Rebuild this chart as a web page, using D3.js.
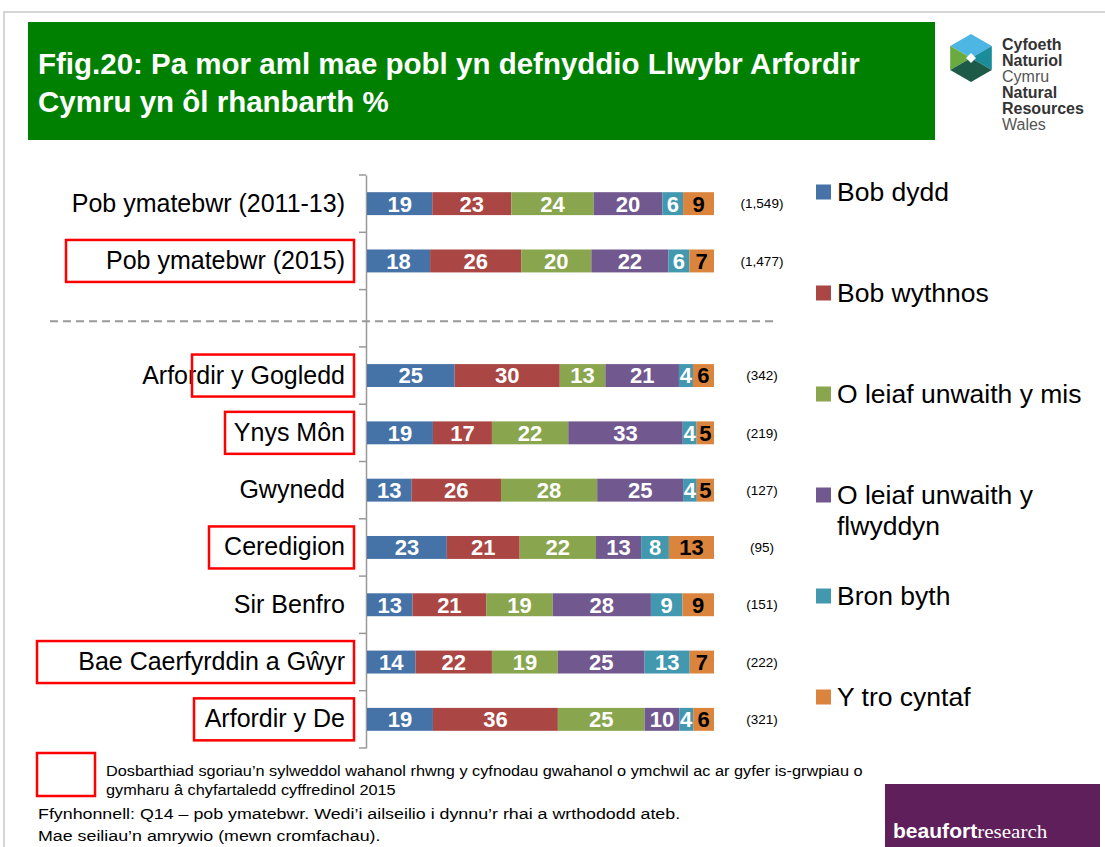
<!DOCTYPE html>
<html>
<head>
<meta charset="utf-8">
<script src="https://cdn.jsdelivr.net/npm/d3@7"></script>
<style>
  body { margin: 0; background: #fff; }
  svg { display: block; font-family: "Liberation Sans", Arial, sans-serif; }
</style>
</head>
<body>
<svg id="chart" width="1105" height="847"></svg>
<script>
// data
const categories = ["Pob ymatebwr (2011-13)", "Pob ymatebwr (2015)", "Arfordir y Gogledd", "Ynys Môn",
  "Gwynedd", "Ceredigion", "Sir Benfro", "Bae Caerfyrddin a Gŵyr", "Arfordir y De"];
const seriesNames = ["Bob dydd", "Bob wythnos", "O leiaf unwaith y mis", "O leiaf unwaith y flwyddyn",
  "Bron byth", "Y tro cyntaf"];
const bobDydd = [19, 18, 25, 19, 13, 23, 13, 14, 19];
const bobWythnos = [23, 26, 30, 17, 26, 21, 21, 22, 36];
const unwaithMis = [24, 20, 13, 22, 28, 22, 19, 19, 25];
const unwaithFlwyddyn = [20, 22, 21, 33, 25, 13, 28, 25, 10];
const bronByth = [6, 6, 4, 4, 4, 8, 9, 13, 4];
const troCyntaf = [9, 7, 6, 5, 5, 13, 9, 7, 6];
const bases = ["(1,549)", "(1,477)", "(342)", "(219)", "(127)", "(95)", "(151)", "(222)", "(321)"];
const highlighted = ["Pob ymatebwr (2015)", "Arfordir y Gogledd", "Ynys Môn", "Ceredigion",
  "Bae Caerfyrddin a Gŵyr", "Arfordir y De"];

const colors = ["#4572a7", "#aa4643", "#89a54e", "#71588f", "#4198af", "#db843d"];
const GAP = "__gap";

const svg = d3.select("#chart");

// slide frame
svg.append("path").attr("d", "M4,847V12H1105").attr("fill", "none").attr("stroke", "#c8c8c8").attr("stroke-width", 1.5);

// title banner
svg.append("rect").attr("x", 28).attr("y", 22).attr("width", 907).attr("height", 118).attr("fill", "#008000");
const title = svg.append("text").attr("fill", "#fff").attr("font-weight", "bold").attr("font-size", 29.5);
title.append("tspan").attr("x", 38).attr("y", 74).text("Ffig.20: Pa mor aml mae pobl yn defnyddio Llwybr Arfordir");
title.append("tspan").attr("x", 38).attr("y", 112).text("Cymru yn ôl rhanbarth %");

// NRW logo
const logo = svg.append("g").attr("transform", "translate(971,58)");
const r = 24, k = r * 0.866;
const P = { T: [0, -r], UR: [k, -r / 2], LR: [k, r / 2], B: [0, r], LL: [-k, r / 2], UL: [-k, -r / 2], C: [0, 0] };
const poly = (pts, fill) => logo.append("polygon").attr("points", pts.map(p => P[p].join(",")).join(" ")).attr("fill", fill);
poly(["T", "UR", "C", "UL"], "#4db6e2");
poly(["UL", "C", "LL"], "#6aab3f");
poly(["UR", "LR", "C"], "#1b8c9a");
poly(["LL", "C", "LR", "B"], "#1d5a48");
logo.append("polygon").attr("points", "0,-5 5,0 0,5 -5,0").attr("fill", "#fff");
const logoLines = [["Cyfoeth", "bold"], ["Naturiol", "bold"], ["Cymru", "normal"], ["Natural", "bold"], ["Resources", "bold"], ["Wales", "normal"]];
svg.append("g").selectAll("text").data(logoLines).join("text")
  .attr("x", 1002).attr("y", (d, i) => 50 + i * 16)
  .attr("font-size", 16).attr("font-weight", d => d[1]).attr("fill", d => d[1] === "bold" ? "#333" : "#555")
  .text(d => d[0]);

// stacked data
const rows = categories.map((c, i) => ({
  cat: c,
  "Bob dydd": bobDydd[i],
  "Bob wythnos": bobWythnos[i],
  "O leiaf unwaith y mis": unwaithMis[i],
  "O leiaf unwaith y flwyddyn": unwaithFlwyddyn[i],
  "Bron byth": bronByth[i],
  "Y tro cyntaf": troCyntaf[i]
}));
const stacked = d3.stack().keys(seriesNames).offset(d3.stackOffsetExpand)(rows);

const domain = [categories[0], categories[1], GAP, ...categories.slice(2)];
const y = d3.scaleBand().domain(domain).range([175, 748]).paddingInner(0.6).paddingOuter(0.3);
const x = d3.scaleLinear().domain([0, 1]).range([367, 714]);
const color = d3.scaleOrdinal().domain(seriesNames).range(colors);

// axis with labels
const axis = svg.append("g").attr("transform", "translate(366,0)")
  .call(d3.axisLeft(y).tickSize(0).tickPadding(21).tickFormat(d => d === GAP ? "" : d));
axis.select(".domain").attr("stroke", "#999").attr("stroke-width", 1.5);
axis.selectAll(".tick text").attr("font-family", "Liberation Sans, Arial, sans-serif").attr("font-size", 25).attr("fill", "#000");

// boundary ticks between categories
const bounds = domain.map(d => y(d) + y.bandwidth() / 2 - y.step() / 2).concat([y(domain[domain.length - 1]) + y.bandwidth() / 2 + y.step() / 2]);
svg.append("g").selectAll("line").data(bounds).join("line")
  .attr("x1", 359).attr("x2", 366).attr("y1", d => d).attr("y2", d => d)
  .attr("stroke", "#999").attr("stroke-width", 1.5);

// dashed separator
const gapY = y(GAP) + y.bandwidth() / 2 + 3;
svg.append("line").attr("x1", 50).attr("x2", 775).attr("y1", gapY).attr("y2", gapY)
  .attr("stroke", "#999").attr("stroke-width", 2).attr("stroke-dasharray", "8,5");

// red highlight boxes
const boxLeft = { "Pob ymatebwr (2015)": 66, "Arfordir y Gogledd": 192, "Ynys Môn": 225, "Ceredigion": 209,
  "Bae Caerfyrddin a Gŵyr": 37, "Arfordir y De": 194 };
svg.append("g").selectAll("rect").data(highlighted).join("rect")
  .attr("x", d => boxLeft[d]).attr("width", d => 354 - boxLeft[d])
  .attr("y", d => y(d) + y.bandwidth() / 2 - 21).attr("height", 42)
  .attr("fill", "none").attr("stroke", "#f00").attr("stroke-width", 2.5);

// bars
const layers = svg.append("g").selectAll("g").data(stacked).join("g").attr("fill", d => color(d.key));
layers.selectAll("rect").data(d => d).join("rect")
  .attr("x", d => x(d[0])).attr("width", d => x(d[1]) - x(d[0]))
  .attr("y", d => y(d.data.cat)).attr("height", y.bandwidth());

// segment values
layers.selectAll("text").data(d => d.map(v => ({ v, key: d.key }))).join("text")
  .attr("x", d => (x(d.v[0]) + x(d.v[1])) / 2)
  .attr("y", d => y(d.v.data.cat) + y.bandwidth() / 2)
  .attr("dy", "0.36em").attr("text-anchor", "middle")
  .attr("font-size", 22).attr("font-weight", "bold")
  .attr("fill", d => d.key === "Y tro cyntaf" ? "#000" : "#fff")
  .text(d => d.v.data[d.key]);

// bases
svg.append("g").selectAll("text").data(categories).join("text")
  .attr("x", 762).attr("y", d => y(d) + y.bandwidth() / 2).attr("dy", "0.35em")
  .attr("text-anchor", "middle").attr("font-size", 13.5).attr("fill", "#000")
  .text((d, i) => bases[i]);

// legend
const ly = d3.scalePoint().domain(seriesNames).range([192, 697]);
const leg = svg.append("g").selectAll("g").data(seriesNames).join("g")
  .attr("transform", d => `translate(816,${ly(d)})`);
leg.append("rect").attr("x", 0).attr("y", -7.5).attr("width", 15).attr("height", 15).attr("fill", d => color(d));
leg.append("text").attr("x", 21).attr("dy", "0.35em").attr("font-size", 26.5).attr("fill", "#000")
  .each(function (d) {
    const t = d3.select(this);
    if (d === "O leiaf unwaith y flwyddyn") {
      t.append("tspan").attr("x", 21).text("O leiaf unwaith y");
      t.append("tspan").attr("x", 21).attr("dy", 31).text("flwyddyn");
    } else {
      t.text(d);
    }
  });

// footer
svg.append("rect").attr("x", 37).attr("y", 753).attr("width", 58).attr("height", 43)
  .attr("fill", "none").attr("stroke", "#f00").attr("stroke-width", 2.5);
const notes = [
  [106, 776, 14.5, 1.125, "Dosbarthiad sgoriau’n sylweddol wahanol rhwng y cyfnodau gwahanol o ymchwil ac ar gyfer is-grwpiau o"],
  [106, 795, 14.5, 1.125, "gymharu â chyfartaledd cyffredinol 2015"],
  [38, 819, 15.5, 1.15, "Ffynhonnell: Q14 – pob ymatebwr. Wedi’i ailseilio i dynnu’r rhai a wrthododd ateb."],
  [38, 841, 15.5, 1.15, "Mae seiliau’n amrywio (mewn cromfachau)."]
];
svg.append("g").selectAll("text").data(notes).join("text")
  .attr("transform", d => `translate(${d[0]},${d[1]}) scale(${d[3]},1)`)
  .attr("font-size", d => d[2]).attr("fill", "#000")
  .text(d => d[4]);

// beaufort research badge
svg.append("rect").attr("x", 885).attr("y", 784).attr("width", 215).attr("height", 63).attr("fill", "#5e1f5b");
const br = svg.append("text").attr("transform", "translate(893,838) scale(1.08,1)").attr("font-size", 19.5).attr("fill", "#fff");
br.append("tspan").attr("font-weight", "bold").text("beaufort");
br.append("tspan").attr("font-family", "Liberation Serif, serif").text("research");
</script>
</body>
</html>
